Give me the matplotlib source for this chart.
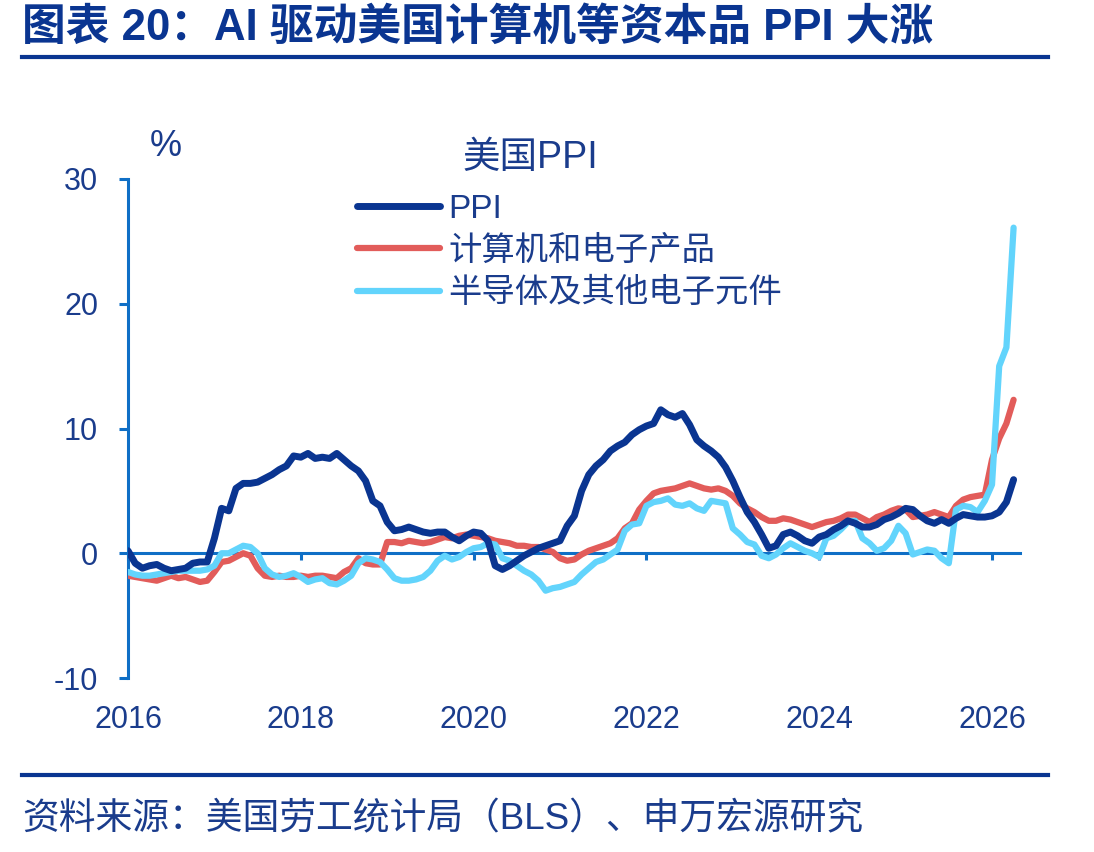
import numpy as np
import matplotlib
matplotlib.use('Agg')
import matplotlib.pyplot as plt
from matplotlib.lines import Line2D
from matplotlib.transforms import Bbox

plt.rcParams['font.family'] = ['Liberation Sans', 'Noto Sans CJK SC', 'DejaVu Sans']
plt.rcParams['axes.unicode_minus'] = False

# monthly YoY, %, Jan 2016 onwards
ppi = [0.2, -0.8, -1.2, -1.0, -0.9, -1.2, -1.4, -1.3, -1.2, -0.8, -0.7, -0.7,
       1.2, 3.6, 3.4, 5.2, 5.6, 5.6, 5.7, 6.0, 6.3, 6.7, 7.0, 7.8,
       7.7, 8.0, 7.6, 7.7, 7.6, 8.0, 7.5, 7.0, 6.6, 5.8, 4.2, 3.8,
       2.5, 1.8, 1.9, 2.1, 1.9, 1.7, 1.6, 1.7, 1.7, 1.3, 1.0, 1.4,
       1.7, 1.6, 1.0, -1.0, -1.3, -1.0, -0.6, -0.2, 0.1, 0.4, 0.6, 0.8,
       1.0, 2.2, 3.0, 5.0, 6.3, 7.0, 7.5, 8.2, 8.6, 8.9, 9.5, 9.9,
       10.2, 10.4, 11.5, 11.1, 10.9, 11.2, 10.3, 9.1, 8.6, 8.2, 7.7, 6.9,
       5.8, 4.5, 3.3, 2.5, 1.5, 0.4, 0.6, 1.5, 1.7, 1.4, 1.0, 0.8,
       1.3, 1.5, 1.9, 2.2, 2.6, 2.4, 2.1, 2.1, 2.3, 2.7, 2.9, 3.2,
       3.6, 3.5, 3.0, 2.6, 2.4, 2.7, 2.4, 2.8, 3.1, 3.0, 2.9, 2.9,
       3.0, 3.3, 4.1, 5.9]
comp = [-1.8, -1.9, -2.0, -2.1, -2.2, -2.0, -1.8, -2.0, -1.9, -2.1, -2.3, -2.2,
        -1.5, -0.7, -0.6, -0.3, 0.0, -0.2, -1.2, -1.8, -1.9, -1.8, -1.9, -1.9,
        -1.8, -1.9, -1.8, -1.8, -1.9, -2.0, -1.5, -1.2, -0.4, -0.8, -0.9, -0.9,
        0.9, 0.9, 0.8, 1.0, 0.9, 0.8, 0.9, 1.1, 1.3, 1.2, 1.4, 1.5,
        1.4, 1.3, 1.2, 1.0, 0.9, 0.8, 0.6, 0.6, 0.5, 0.5, 0.3, 0.1,
        -0.4, -0.6, -0.5, -0.1, 0.2, 0.4, 0.6, 0.8, 1.2, 2.0, 2.4, 3.5,
        4.2, 4.8, 5.0, 5.1, 5.2, 5.4, 5.6, 5.4, 5.2, 5.1, 5.2, 5.0,
        4.6, 4.0, 3.6, 3.3, 2.9, 2.6, 2.6, 2.8, 2.7, 2.5, 2.3, 2.1,
        2.3, 2.5, 2.6, 2.8, 3.1, 3.1, 2.8, 2.5, 2.9, 3.1, 3.4, 3.6,
        3.5, 2.9, 3.0, 3.1, 3.3, 3.1, 2.9, 3.8, 4.3, 4.5, 4.6, 4.7,
        7.5, 9.2, 10.4, 12.3]
semi = [-1.5, -1.7, -1.8, -1.8, -1.7, -1.6, -1.5, -1.4, -1.4, -1.4, -1.4, -1.3,
        -1.0, 0.0, 0.0, 0.3, 0.6, 0.5, 0.0, -1.2, -1.7, -1.9, -1.8, -1.6,
        -1.9, -2.3, -2.1, -2.0, -2.4, -2.5, -2.2, -1.8, -0.8, -0.4, -0.5, -0.7,
        -1.3, -2.0, -2.2, -2.2, -2.1, -1.9, -1.4, -0.6, -0.2, -0.5, -0.3, 0.1,
        0.4, 0.5, 0.8, 0.7, -0.4, -0.6, -1.0, -1.4, -1.7, -2.2, -3.0, -2.8,
        -2.7, -2.5, -2.3, -1.7, -1.2, -0.7, -0.5, -0.1, 0.3, 1.8, 2.3, 2.4,
        3.8, 4.1, 4.2, 4.4, 3.9, 3.8, 4.0, 3.6, 3.4, 4.2, 4.1, 4.0,
        2.0, 1.5, 0.9, 0.7, -0.2, -0.4, -0.1, 0.4, 0.8, 0.5, 0.2, 0.0,
        -0.3, 1.2, 1.4, 1.9, 2.5, 2.6, 1.2, 0.8, 0.2, 0.4, 1.0, 2.2,
        1.6, -0.1, 0.1, 0.3, 0.2, -0.4, -0.8, 3.5, 3.8, 3.7, 3.3, 4.2,
        5.5, 15.0, 16.5, 26.1]
labels = ['PPI', '计算机和电子产品', '半导体及其他电子元件']
x_years = [2016, 2018, 2020, 2022, 2024, 2026]
y_ticks = [-10, 0, 10, 20, 30]

t = 2016 + np.arange(len(ppi)) / 12

navy = '#0a3591'
red = '#e25c5a'
cyan = '#62d4fc'
axblue = '#0f6fc6'
txt = '#1a3c8c'

W, H = 1094, 852
fig = plt.figure(figsize=(W / 100, H / 100), dpi=100)
ax = fig.add_axes([128 / W, 1 - 678 / H, (1020 - 128) / W, (678 - 179) / H])

ax.plot(t, ppi, color=navy, lw=5, label=labels[0], solid_capstyle='round', zorder=5)
ax.plot(t, comp, color=red, lw=4.5, label=labels[1], solid_capstyle='round', zorder=3)
ax.plot(t, semi, color=cyan, lw=4.5, label=labels[2], solid_capstyle='round', zorder=4)

ax.set_xlim(2016, 2016 + (1020 - 128) / 86.4)
ax.set_ylim(-10, 30)

for s in ['top', 'right']:
    ax.spines[s].set_visible(False)
ax.spines['left'].set_color(axblue)
ax.spines['left'].set_linewidth(2.2)
ax.spines['bottom'].set_position(('data', 0))
ax.spines['bottom'].set_color(axblue)
ax.spines['bottom'].set_linewidth(2.2)
ax.spines['bottom'].set_zorder(2)

ax.set_yticks(y_ticks)
ax.set_xticks(x_years)
ax.set_xticklabels([str(y) for y in x_years])
ax.tick_params(axis='y', colors=axblue, width=2.2, length=6.5, direction='out',
               labelcolor=txt, labelsize=22, pad=15)
ax.tick_params(axis='x', colors=axblue, width=2.2, length=5, direction='out',
               labelcolor=txt, labelsize=22, pad=104)

fig.text(150 / W, 1 - 147 / H, '%', fontsize=26, color=txt, va='center')

fig.text(462 / W, 1 - 158 / H, '美国PPI', fontsize=27, color=txt, va='center')
ax.legend(loc='upper left', bbox_to_anchor=(357 / W, 1 - 194 / H),
          bbox_transform=fig.transFigure, frameon=False, fontsize=24,
          labelcolor=txt, handlelength=2.5, handletextpad=0.25,
          labelspacing=0.33, borderpad=0, borderaxespad=0)

fig.text(22 / W, 1 - 28 / H, '图表 20：AI 驱动美国计算机等资本品 PPI 大涨',
         fontsize=31.5, fontweight='bold', color=navy, va='center')
fig.add_artist(Line2D([22 / W, 1048 / W], [1 - 57 / H, 1 - 57 / H],
                      color=navy, lw=3, transform=fig.transFigure))
fig.add_artist(Line2D([22 / W, 1048 / W], [1 - 775 / H, 1 - 775 / H],
                      color=navy, lw=3, transform=fig.transFigure))
fig.text(22 / W, 1 - 820 / H, '资料来源：美国劳工统计局（BLS）、申万宏源研究',
         fontsize=26.5, color=txt, va='center')

# the last year label is cut by the plot frame in the original
fig.canvas.draw()
lab = ax.xaxis.get_major_ticks()[-1].label1
lab.set_clip_box(Bbox.from_extents(0, 0, 1030, H))
lab.set_clip_on(True)

fig.savefig('out.png', dpi=100)
